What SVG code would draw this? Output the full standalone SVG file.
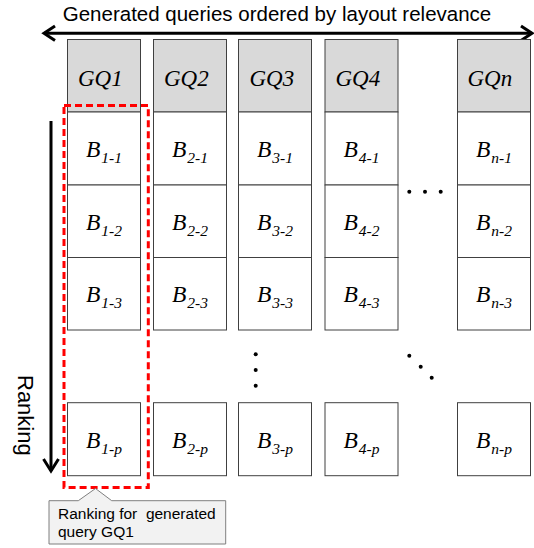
<svg xmlns="http://www.w3.org/2000/svg" width="534" height="548" viewBox="0 0 534 548">
<style>
.hd{fill:#D9D9D9;stroke:#404040;stroke-width:1}
.bx{fill:#FFFFFF;stroke:#404040;stroke-width:1}
.gq{font-family:"Liberation Serif",serif;font-style:italic;font-size:23px;fill:#000}
.b{font-family:"Liberation Serif",serif;font-style:italic;font-size:23.5px;fill:#000;text-anchor:middle}
.sub{font-size:15.5px}
.sans{font-family:"Liberation Sans",Arial,sans-serif;fill:#000}
.arr{stroke:#000;stroke-width:3;fill:none}
.dot{fill:#000}
</style>
<g id="title"><text class="sans" x="277" y="21" font-size="20.5" text-anchor="middle">Generated queries ordered by layout relevance</text></g>
<g id="connectors">
<line class="arr" x1="44" y1="33.3" x2="532" y2="33.3"/>
<polyline class="arr" points="55,26 44,33.3 55,40.5"/>
<polyline class="arr" points="521,26 532,33.3 521,40.5"/>
<line class="arr" x1="51" y1="121" x2="51" y2="471"/>
<polyline class="arr" points="43.5,459 51,471 58.5,459"/>
</g>
<g id="ranking-label"><text class="sans" font-size="22" transform="translate(18,375) rotate(90)">Ranking</text></g>
<g id="col1">
<rect class="hd" x="67.5" y="39.5" width="73" height="72.5"/><text class="gq" x="78" y="86">GQ1</text>
<rect class="bx" x="67.5" y="112" width="73" height="73"/><text class="b" x="104" y="157">B<tspan class="sub" dx="1" dy="6">1-1</tspan></text>
<rect class="bx" x="67.5" y="185" width="73" height="72.5"/><text class="b" x="104" y="229.5">B<tspan class="sub" dx="1" dy="6">1-2</tspan></text>
<rect class="bx" x="67.5" y="257.5" width="73" height="72.5"/><text class="b" x="104" y="302">B<tspan class="sub" dx="1" dy="6">1-3</tspan></text>
<rect class="bx" x="67.5" y="402.7" width="73" height="73"/><text class="b" x="104" y="448">B<tspan class="sub" dx="1" dy="6">1-p</tspan></text>
</g>
<g id="col2">
<rect class="hd" x="153.5" y="39.5" width="73" height="72.5"/><text class="gq" x="164" y="86">GQ2</text>
<rect class="bx" x="153.5" y="112" width="73" height="73"/><text class="b" x="190" y="157">B<tspan class="sub" dx="1" dy="6">2-1</tspan></text>
<rect class="bx" x="153.5" y="185" width="73" height="72.5"/><text class="b" x="190" y="229.5">B<tspan class="sub" dx="1" dy="6">2-2</tspan></text>
<rect class="bx" x="153.5" y="257.5" width="73" height="72.5"/><text class="b" x="190" y="302">B<tspan class="sub" dx="1" dy="6">2-3</tspan></text>
<rect class="bx" x="153.5" y="402.7" width="73" height="73"/><text class="b" x="190" y="448">B<tspan class="sub" dx="1" dy="6">2-p</tspan></text>
</g>
<g id="col3">
<rect class="hd" x="238.5" y="39.5" width="73" height="72.5"/><text class="gq" x="249.5" y="86">GQ3</text>
<rect class="bx" x="238.5" y="112" width="73" height="73"/><text class="b" x="275" y="157">B<tspan class="sub" dx="1" dy="6">3-1</tspan></text>
<rect class="bx" x="238.5" y="185" width="73" height="72.5"/><text class="b" x="275" y="229.5">B<tspan class="sub" dx="1" dy="6">3-2</tspan></text>
<rect class="bx" x="238.5" y="257.5" width="73" height="72.5"/><text class="b" x="275" y="302">B<tspan class="sub" dx="1" dy="6">3-3</tspan></text>
<rect class="bx" x="238.5" y="402.7" width="73" height="73"/><text class="b" x="275" y="448">B<tspan class="sub" dx="1" dy="6">3-p</tspan></text>
</g>
<g id="col4">
<rect class="hd" x="325" y="39.5" width="73" height="72.5"/><text class="gq" x="335.5" y="86">GQ4</text>
<rect class="bx" x="325" y="112" width="73" height="73"/><text class="b" x="361.5" y="157">B<tspan class="sub" dx="1" dy="6">4-1</tspan></text>
<rect class="bx" x="325" y="185" width="73" height="72.5"/><text class="b" x="361.5" y="229.5">B<tspan class="sub" dx="1" dy="6">4-2</tspan></text>
<rect class="bx" x="325" y="257.5" width="73" height="72.5"/><text class="b" x="361.5" y="302">B<tspan class="sub" dx="1" dy="6">4-3</tspan></text>
<rect class="bx" x="325" y="402.7" width="73" height="73"/><text class="b" x="361.5" y="448">B<tspan class="sub" dx="1" dy="6">4-p</tspan></text>
</g>
<g id="coln">
<rect class="hd" x="457.5" y="39.5" width="73" height="72.5"/><text class="gq" x="467.5" y="86">GQn</text>
<rect class="bx" x="457.5" y="112" width="73" height="73"/><text class="b" x="494" y="157">B<tspan class="sub" dx="1" dy="6">n-1</tspan></text>
<rect class="bx" x="457.5" y="185" width="73" height="72.5"/><text class="b" x="494" y="229.5">B<tspan class="sub" dx="1" dy="6">n-2</tspan></text>
<rect class="bx" x="457.5" y="257.5" width="73" height="72.5"/><text class="b" x="494" y="302">B<tspan class="sub" dx="1" dy="6">n-3</tspan></text>
<rect class="bx" x="457.5" y="402.7" width="73" height="73"/><text class="b" x="494" y="448">B<tspan class="sub" dx="1" dy="6">n-p</tspan></text>
</g>
<g id="ellipses">
<circle class="dot" cx="409.3" cy="191.7" r="2"/><circle class="dot" cx="425" cy="191.7" r="2"/><circle class="dot" cx="440.7" cy="191.7" r="2"/>
<circle class="dot" cx="255.7" cy="354.3" r="2"/><circle class="dot" cx="255.7" cy="370" r="2"/><circle class="dot" cx="255.7" cy="385.7" r="2"/>
<circle class="dot" cx="409.3" cy="355.7" r="2"/><circle class="dot" cx="420.7" cy="366.7" r="2"/><circle class="dot" cx="431.7" cy="377.7" r="2"/>
</g>
<g id="highlight"><rect x="64" y="105.5" width="84.3" height="382" fill="none" stroke="#FF0000" stroke-width="3" stroke-dasharray="7,4"/></g>
<g id="callout">
<path d="M49,500.7 L78.3,500.7 L95.5,488.5 L111.7,500.7 L225.7,500.7 L225.7,544 L49,544 Z" fill="#F2F2F2" stroke="#7F7F7F" stroke-width="1"/>
<text class="sans" font-size="15.5" x="58" y="518.5" xml:space="preserve">Ranking for  generated</text>
<text class="sans" font-size="15.5" x="58" y="537">query GQ1</text>
</g>
</svg>
